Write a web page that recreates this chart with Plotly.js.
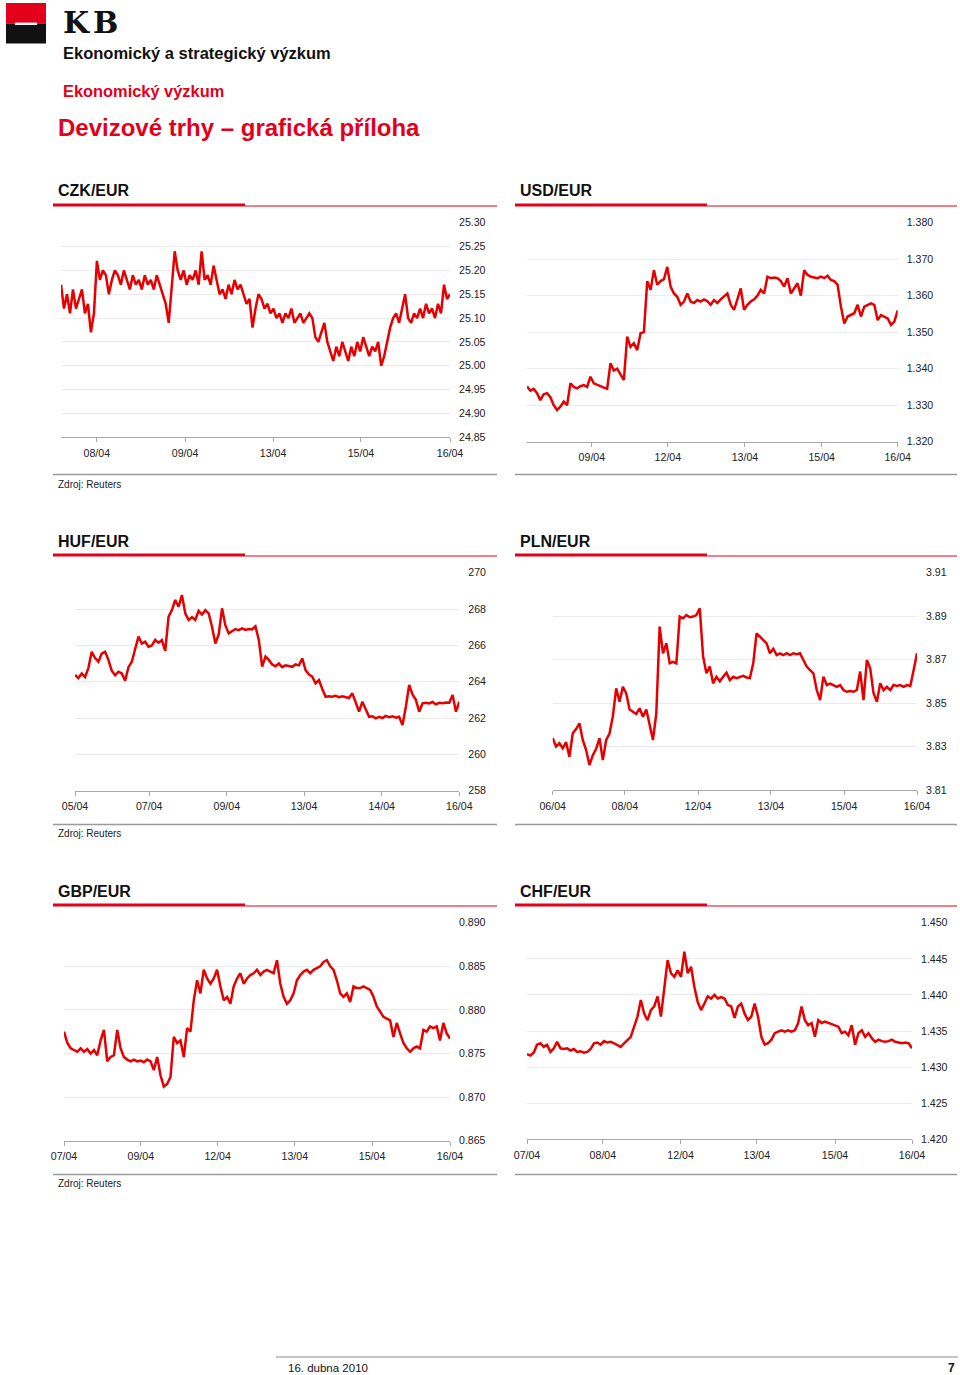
<!DOCTYPE html>
<html>
<head>
<meta charset="utf-8">
<script src="https://cdn.plot.ly/plotly-3.0.1.min.js"></script>
<style>
  body { margin: 0; background: #fff; }
  #myDiv { width: 960px; height: 1375px; }
</style>
</head>
<body>
<div id="myDiv"></div>
<script>
// intraday fixings (evenly spaced samples)
var czkVals = [25.17, 25.12, 25.15, 25.11, 25.16, 25.12, 25.14, 25.16, 25.11, 25.13,
  25.07, 25.11, 25.22, 25.18, 25.20, 25.19, 25.15, 25.18, 25.20, 25.19,
  25.17, 25.20, 25.18, 25.16, 25.19, 25.17, 25.18, 25.16, 25.19, 25.17,
  25.18, 25.16, 25.19, 25.17, 25.15, 25.13, 25.09, 25.16, 25.24, 25.20,
  25.18, 25.20, 25.17, 25.19, 25.18, 25.20, 25.17, 25.24, 25.18, 25.19,
  25.17, 25.21, 25.18, 25.15, 25.16, 25.14, 25.17, 25.15, 25.18, 25.16,
  25.17, 25.15, 25.13, 25.14, 25.08, 25.12, 25.15, 25.14, 25.12, 25.13,
  25.11, 25.12, 25.10, 25.11, 25.09, 25.11, 25.10, 25.12, 25.09, 25.10,
  25.11, 25.09, 25.10, 25.11, 25.10, 25.06, 25.05, 25.07, 25.09, 25.05,
  25.03, 25.01, 25.04, 25.02, 25.05, 25.03, 25.01, 25.04, 25.02, 25.05,
  25.03, 25.06, 25.04, 25.02, 25.04, 25.03, 25.05, 25.00, 25.02, 25.05,
  25.08, 25.10, 25.11, 25.09, 25.12, 25.15, 25.10, 25.09, 25.11, 25.10,
  25.12, 25.10, 25.13, 25.11, 25.12, 25.10, 25.13, 25.11, 25.17, 25.14,
  25.15];
var czkTickPos = [0.092, 0.319, 0.545, 0.771, 1.0];
var czkTickText = ['08/04', '09/04', '13/04', '15/04', '16/04'];

var usdVals = [1.3351, 1.3340, 1.3345, 1.3333, 1.3314, 1.3330, 1.3333, 1.3322, 1.3300, 1.3287,
  1.3296, 1.3310, 1.3300, 1.3360, 1.3350, 1.3346, 1.3352, 1.3355, 1.3350, 1.3378,
  1.3360, 1.3355, 1.3352, 1.3348, 1.3345, 1.3415, 1.3395, 1.3400, 1.3385, 1.3369,
  1.3488, 1.3460, 1.3470, 1.3451, 1.3497, 1.3500, 1.3640, 1.3616, 1.3670, 1.3630,
  1.3640, 1.3645, 1.3679, 1.3625, 1.3606, 1.3597, 1.3575, 1.3584, 1.3606, 1.3584,
  1.3580, 1.3588, 1.3584, 1.3590, 1.3585, 1.3575, 1.3588, 1.3580, 1.3590, 1.3597,
  1.3606, 1.3575, 1.3561, 1.3590, 1.3620, 1.3561, 1.3575, 1.3584, 1.3590, 1.3600,
  1.3616, 1.3606, 1.3652, 1.3648, 1.3650, 1.3648, 1.3640, 1.3625, 1.3648, 1.3606,
  1.3620, 1.3634, 1.3600, 1.3670, 1.3657, 1.3652, 1.3650, 1.3648, 1.3652, 1.3648,
  1.3655, 1.3643, 1.3640, 1.3630, 1.3570, 1.3524, 1.3543, 1.3547, 1.3552, 1.3575,
  1.3543, 1.3570, 1.3575, 1.3579, 1.3575, 1.3533, 1.3547, 1.3543, 1.3538, 1.3520,
  1.3529, 1.3560];
var usdTickPos = [0.175, 0.38, 0.588, 0.795, 1.0];
var usdTickText = ['09/04', '12/04', '13/04', '15/04', '16/04'];

var hufVals = [264.37, 264.20, 264.45, 264.25, 264.75, 265.65, 265.30, 265.10, 265.55, 265.65,
  265.20, 264.60, 264.35, 264.55, 264.45, 264.05, 264.80, 265.10, 265.80, 266.48,
  266.10, 266.20, 265.93, 266.00, 266.30, 266.15, 266.29, 265.70, 267.58, 267.94,
  268.50, 268.13, 268.77, 267.76, 267.39, 267.55, 267.40, 267.90, 267.70, 267.94,
  267.76, 267.03, 266.10, 266.60, 268.04, 267.10, 266.66, 266.80, 266.90, 266.84,
  266.94, 266.85, 266.90, 266.88, 267.05, 266.30, 264.83, 265.38, 265.20, 264.95,
  264.85, 265.00, 264.80, 264.90, 264.88, 264.82, 264.95, 264.90, 265.28, 264.64,
  264.40, 264.28, 263.91, 264.09, 263.60, 263.17, 263.20, 263.17, 263.22, 263.15,
  263.20, 263.17, 263.10, 263.36, 262.81, 262.35, 262.90, 262.44, 262.07, 262.10,
  261.98, 262.07, 262.00, 262.12, 262.05, 262.10, 262.02, 262.07, 261.61, 262.62,
  263.82, 263.30, 263.00, 262.35, 262.81, 262.84, 262.80, 262.88, 262.75, 262.84,
  262.82, 262.86, 262.84, 263.27, 262.35, 262.90];
var hufTickPos = [0, 0.193, 0.395, 0.596, 0.798, 1.0];
var hufTickText = ['05/04', '07/04', '09/04', '13/04', '14/04', '16/04'];

var plnVals = [3.8338, 3.8300, 3.8315, 3.8292, 3.8320, 3.8253, 3.8361, 3.8380, 3.8407, 3.8330,
  3.8284, 3.8215, 3.8260, 3.8290, 3.8338, 3.8238, 3.8330, 3.8360, 3.8440, 3.8568,
  3.8506, 3.8575, 3.8545, 3.8470, 3.8460, 3.8450, 3.8476, 3.8437, 3.8470, 3.8400,
  3.8330, 3.8453, 3.8852, 3.8729, 3.8775, 3.8683, 3.8690, 3.8683, 3.8898, 3.8890,
  3.8905, 3.8895, 3.8898, 3.8905, 3.8936, 3.8714, 3.8637, 3.8668, 3.8591, 3.8621,
  3.8600, 3.8621, 3.8640, 3.8606, 3.8621, 3.8615, 3.8621, 3.8625, 3.8618, 3.8615,
  3.8683, 3.8821, 3.8806, 3.8790, 3.8775, 3.8729, 3.8750, 3.8721, 3.8729, 3.8721,
  3.8730, 3.8721, 3.8729, 3.8725, 3.8729, 3.8698, 3.8668, 3.8652, 3.8637, 3.8560,
  3.8514, 3.8621, 3.8583, 3.8590, 3.8583, 3.8575, 3.8583, 3.8560, 3.8552, 3.8555,
  3.8552, 3.8560, 3.8645, 3.8514, 3.8698, 3.8660, 3.8545, 3.8506, 3.8591, 3.8560,
  3.8575, 3.8560, 3.8583, 3.8579, 3.8583, 3.8575, 3.8583, 3.8579, 3.8652, 3.8729];
var plnTickPos = [0, 0.198, 0.399, 0.599, 0.80, 1.0];
var plnTickText = ['06/04', '08/04', '12/04', '13/04', '15/04', '16/04'];

var gbpVals = [0.8775, 0.8762, 0.8756, 0.8754, 0.8752, 0.8756, 0.8752, 0.8755, 0.8750, 0.8754,
  0.8748, 0.8765, 0.8777, 0.8741, 0.8746, 0.8748, 0.8777, 0.8756, 0.8746, 0.8743,
  0.8741, 0.8743, 0.8741, 0.8742, 0.8740, 0.8743, 0.8741, 0.8731, 0.8746, 0.8725,
  0.8712, 0.8715, 0.8723, 0.8769, 0.8762, 0.8765, 0.8746, 0.8779, 0.8775, 0.8811,
  0.8834, 0.8819, 0.8846, 0.8836, 0.8830, 0.8836, 0.8846, 0.8827, 0.8811, 0.8815,
  0.8807, 0.8827, 0.8836, 0.8842, 0.8830, 0.8836, 0.8840, 0.8842, 0.8846, 0.8840,
  0.8844, 0.8846, 0.8844, 0.8842, 0.8857, 0.8830, 0.8815, 0.8807, 0.8811, 0.8819,
  0.8834, 0.8840, 0.8844, 0.8846, 0.8842, 0.8846, 0.8848, 0.8850, 0.8855, 0.8857,
  0.8850, 0.8846, 0.8834, 0.8819, 0.8815, 0.8819, 0.8809, 0.8827, 0.8825, 0.8825,
  0.8827, 0.8825, 0.8823, 0.8815, 0.8804, 0.8798, 0.8792, 0.8790, 0.8788, 0.8769,
  0.8785, 0.8773, 0.8762, 0.8756, 0.8752, 0.8756, 0.8758, 0.8756, 0.8777, 0.8775,
  0.8781, 0.8779, 0.8781, 0.8765, 0.8785, 0.8773, 0.8767];
var gbpTickPos = [0, 0.199, 0.398, 0.598, 0.798, 1.0];
var gbpTickText = ['07/04', '09/04', '12/04', '13/04', '15/04', '16/04'];

var chfVals = [1.4318, 1.4316, 1.4320, 1.4331, 1.4333, 1.4328, 1.4331, 1.4321, 1.4326, 1.4335,
  1.4326, 1.4325, 1.4326, 1.4323, 1.4325, 1.4321, 1.4322, 1.4320, 1.4321, 1.4325,
  1.4333, 1.4334, 1.4331, 1.4336, 1.4334, 1.4335, 1.4333, 1.4331, 1.4328, 1.4333,
  1.4338, 1.4342, 1.4356, 1.4370, 1.4393, 1.4374, 1.4365, 1.4379, 1.4384, 1.4398,
  1.4370, 1.4411, 1.4448, 1.4430, 1.4425, 1.4434, 1.4425, 1.4460, 1.4430, 1.4439,
  1.4411, 1.4390, 1.4379, 1.4388, 1.4398, 1.4395, 1.4400, 1.4395, 1.4397, 1.4395,
  1.4386, 1.4384, 1.4368, 1.4384, 1.4388, 1.4374, 1.4365, 1.4370, 1.4388, 1.4370,
  1.4342, 1.4331, 1.4333, 1.4338, 1.4347, 1.4349, 1.4351, 1.4349, 1.4351, 1.4349,
  1.4351, 1.4361, 1.4384, 1.4365, 1.4358, 1.4361, 1.4342, 1.4365, 1.4361, 1.4363,
  1.4361, 1.4360, 1.4358, 1.4356, 1.4347, 1.4349, 1.4344, 1.4358, 1.4331, 1.4347,
  1.4351, 1.4342, 1.4347, 1.4340, 1.4335, 1.4338, 1.4336, 1.4335, 1.4336, 1.4338,
  1.4335, 1.4334, 1.4333, 1.4334, 1.4333, 1.4326];
var chfTickPos = [0, 0.197, 0.399, 0.597, 0.80, 1.0];
var chfTickText = ['07/04', '08/04', '12/04', '13/04', '15/04', '16/04'];

var W = 960, H = 1375;
var red = '#e2001a';
var lineRed = '#e60000';
var font = 'Liberation Sans, Arial, Helvetica, sans-serif';
var tickFont = { family: font, size: 10.6, color: '#222' };

function px(x) { return x / W; }
function py(y) { return 1 - y / H; }

function series(vals, xa, ya) {
  return {
    x: vals.map(function (v, i) { return i / (vals.length - 1); }),
    y: vals,
    xaxis: xa,
    yaxis: ya,
    type: 'scatter',
    mode: 'lines',
    line: { color: lineRed, width: 2.5 },
    hoverinfo: 'skip',
    showlegend: false
  };
}

function xAx(x0, x1, ya, pos, text) {
  return {
    domain: [px(x0), px(x1)], anchor: ya, range: [0, 1],
    tickmode: 'array', tickvals: pos, ticktext: text,
    showgrid: false, zeroline: false,
    showline: true, linecolor: '#a8a8a8', linewidth: 1,
    ticks: 'outside', ticklen: 4, tickcolor: '#a8a8a8',
    ticklabelstandoff: 2,
    tickfont: tickFont, fixedrange: true
  };
}

function yAx(y0, y1, xa, lo, hi, step, fmt) {
  return {
    domain: [py(y1), py(y0)], anchor: xa, side: 'right',
    range: [lo, hi], tick0: lo, dtick: step, tickformat: fmt,
    showgrid: true, gridcolor: '#ebebeb', gridwidth: 1,
    zeroline: false, showline: false, ticks: '',
    ticklabelstandoff: 8, tickfont: tickFont, fixedrange: true
  };
}

var data = [
  series(czkVals, 'x', 'y'),
  series(usdVals, 'x2', 'y2'),
  series(hufVals, 'x3', 'y3'),
  series(plnVals, 'x4', 'y4'),
  series(gbpVals, 'x5', 'y5'),
  series(chfVals, 'x6', 'y6')
];

function rect(x0, y0, x1, y1, color) {
  return { type: 'rect', xref: 'paper', yref: 'paper', x0: px(x0), x1: px(x1), y0: py(y1), y1: py(y0),
    line: { width: 0 }, fillcolor: color, layer: 'above' };
}
function hline(x0, x1, y, color, w) {
  return { type: 'line', xref: 'paper', yref: 'paper', x0: px(x0), x1: px(x1), y0: py(y), y1: py(y),
    line: { color: color, width: w } };
}
function label(x, y, text, size, color, bold, anchor, fam) {
  return { xref: 'paper', yref: 'paper', x: px(x), y: py(y), text: bold ? '<b>' + text + '</b>' : text,
    showarrow: false, xanchor: anchor || 'left', yanchor: 'middle',
    font: { family: fam || font, size: size, color: color } };
}

var shapes = [
  // logo
  rect(6, 3, 46, 23.5, red),
  rect(6, 23.5, 46, 43.5, '#111'),
  rect(15, 22.6, 37, 25, '#fff'),
  // section rules
  rect(53, 203.5, 245, 206.5, red), hline(245, 497, 206, red, 1),
  rect(515, 203.5, 707, 206.5, red), hline(707, 957, 206, red, 1),
  rect(53, 553.5, 245, 556.5, red), hline(245, 497, 556, red, 1),
  rect(515, 553.5, 707, 556.5, red), hline(707, 957, 556, red, 1),
  rect(53, 903.5, 245, 906.5, red), hline(245, 497, 906, red, 1),
  rect(515, 903.5, 707, 906.5, red), hline(707, 957, 906, red, 1),
  // bottom rules
  hline(53, 497, 474.5, '#9a9a9a', 1.5), hline(515, 957, 474.5, '#9a9a9a', 1.5),
  hline(53, 497, 824.5, '#9a9a9a', 1.5), hline(515, 957, 824.5, '#9a9a9a', 1.5),
  hline(53, 497, 1174.5, '#9a9a9a', 1.5), hline(515, 957, 1174.5, '#9a9a9a', 1.5),
  // footer
  hline(276, 958, 1357, '#8a8a8a', 1)
];

var logoFont = 'DejaVu Serif, Liberation Serif, serif';
var annotations = [
  label(61, 23, 'K', 30, '#111', true, 'left', logoFont),
  label(91, 23, 'B', 30, '#111', true, 'left', logoFont),
  label(61, 53, 'Ekonomický a strategický výzkum', 16.5, '#111', true),
  label(61, 91, 'Ekonomický výzkum', 16.4, red, true),
  label(56, 127, 'Devizové trhy – grafická příloha', 24, red, true),
  label(56, 191, 'CZK/EUR', 16, '#111', true),
  label(518, 191, 'USD/EUR', 16, '#111', true),
  label(56, 541, 'HUF/EUR', 16, '#111', true),
  label(518, 541, 'PLN/EUR', 16, '#111', true),
  label(56, 891, 'GBP/EUR', 16, '#111', true),
  label(518, 891, 'CHF/EUR', 16, '#111', true),
  label(56, 484, 'Zdroj: Reuters', 10, '#222', false),
  label(56, 834, 'Zdroj: Reuters', 10, '#222', false),
  label(56, 1183, 'Zdroj: Reuters', 10, '#222', false),
  label(286, 1368, '16. dubna 2010', 11.5, '#111', false, 'left', 'Liberation Sans Narrow, Liberation Sans, Arial, sans-serif'),
  label(957, 1368, '7', 12, '#111', true, 'right')
];

var layout = {
  width: W,
  height: H,
  autosize: false,
  margin: { l: 0, r: 0, t: 0, b: 0 },
  paper_bgcolor: '#fff',
  plot_bgcolor: '#fff',
  font: { family: font, color: '#222' },
  showlegend: false,
  xaxis: xAx(61, 450, 'y', czkTickPos, czkTickText),
  yaxis: yAx(222.7, 437.3, 'x', 24.85, 25.30, 0.05, '.2f'),
  xaxis2: xAx(527, 897.7, 'y2', usdTickPos, usdTickText),
  yaxis2: yAx(222.7, 441.7, 'x2', 1.32, 1.38, 0.01, '.3f'),
  xaxis3: xAx(75, 459.3, 'y3', hufTickPos, hufTickText),
  yaxis3: yAx(572.7, 790.7, 'x3', 258, 270, 2, 'd'),
  xaxis4: xAx(552.7, 917, 'y4', plnTickPos, plnTickText),
  yaxis4: yAx(572.7, 790, 'x4', 3.81, 3.91, 0.02, '.2f'),
  xaxis5: xAx(64, 450, 'y5', gbpTickPos, gbpTickText),
  yaxis5: yAx(922.7, 1140.7, 'x5', 0.865, 0.890, 0.005, '.3f'),
  xaxis6: xAx(527, 912, 'y6', chfTickPos, chfTickText),
  yaxis6: yAx(922.7, 1139.3, 'x6', 1.42, 1.45, 0.005, '.3f'),
  shapes: shapes,
  annotations: annotations
};

Plotly.newPlot('myDiv', data, layout, { displayModeBar: false, staticPlot: true });
</script>
</body>
</html>
